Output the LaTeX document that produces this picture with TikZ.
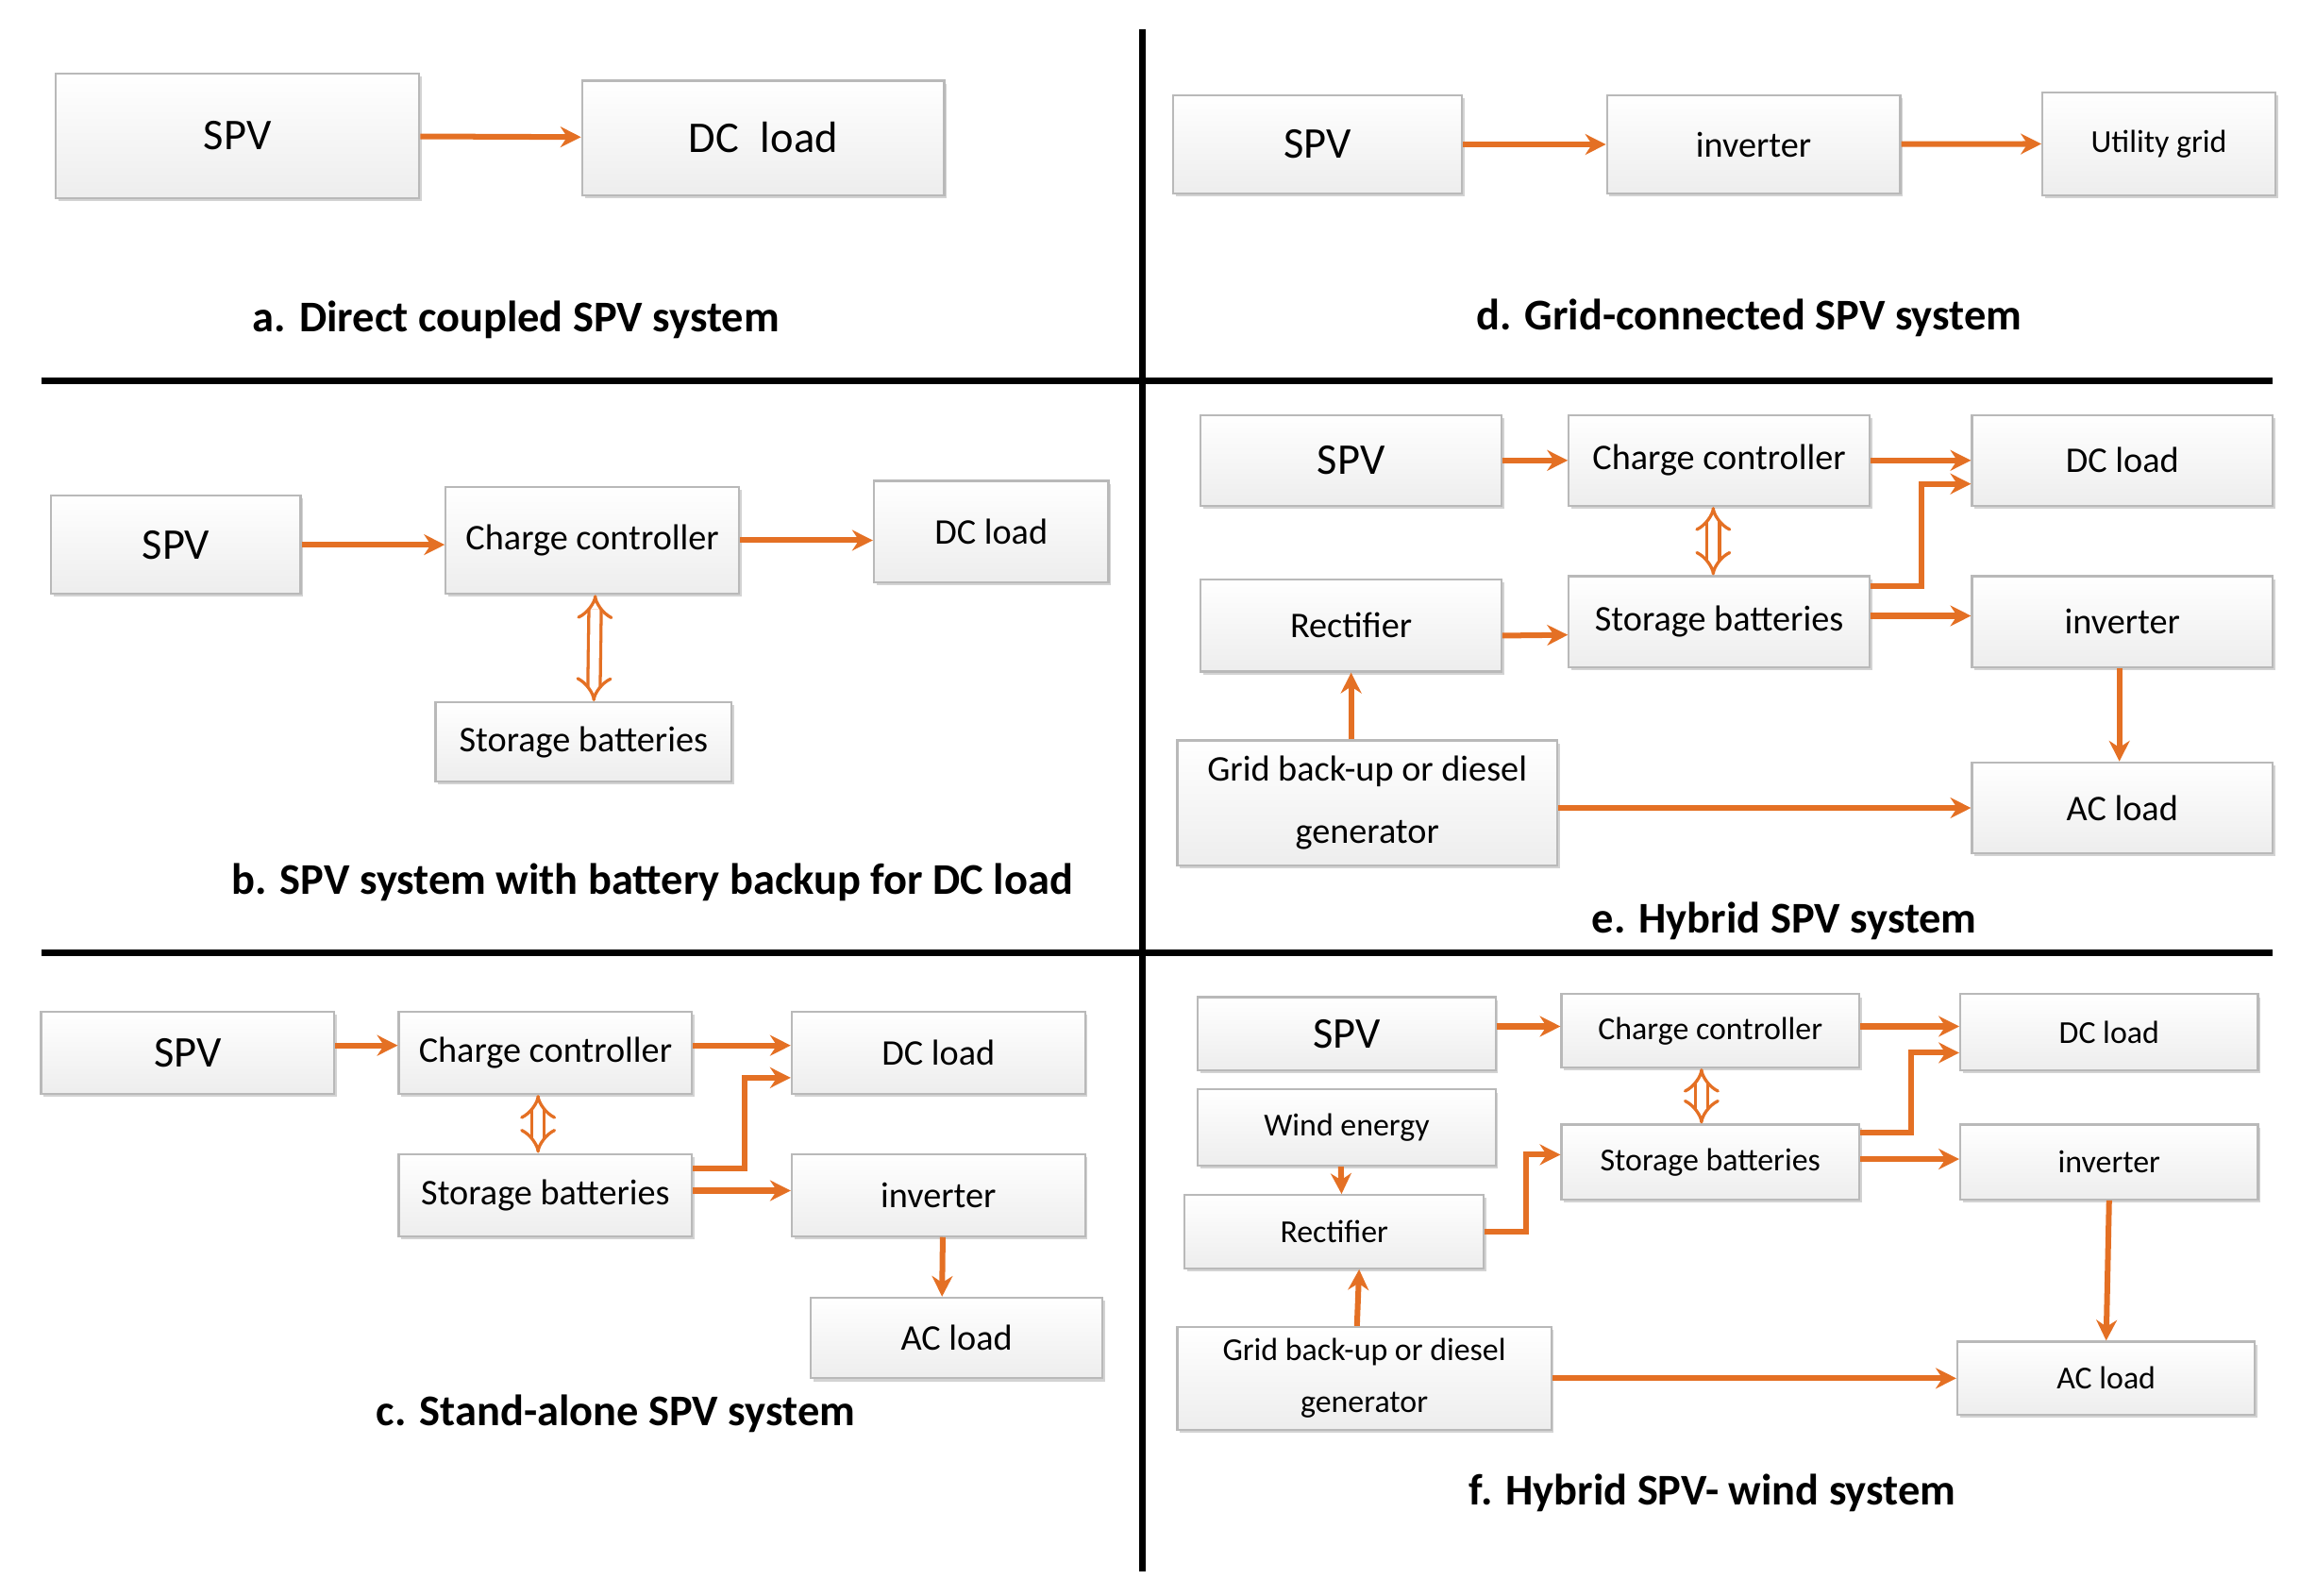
\documentclass[tikz,border=0pt]{standalone}
\usepackage{fontspec}
\setmainfont{Carlito}
\usetikzlibrary{arrows.meta,calc,shadows}
\definecolor{arrorange}{RGB}{228,112,36}
\tikzset{
  blk/.style={draw=gray!55, top color=white, bottom color=gray!14, drop shadow={opacity=0.35,shadow xshift=0.5pt,shadow yshift=-0.6pt},
    inner sep=0pt, font=\fontsize{7}{8}\selectfont},
  big/.style={font=\fontsize{8.5}{10}\selectfont},
  small/.style={font=\fontsize{6.2}{7}\selectfont},
  arr/.style={draw=arrorange, line width=1.1pt, -{Stealth[length=4pt,width=4pt]}},
  dbl/.style={draw=arrorange, line width=0.6pt, double=white, double distance=1.8pt, {Implies}-{Implies}},
  caption/.style={font=\bfseries\fontsize{8.5}{10}\selectfont},
  sep/.style={line width=1.3pt}
}
% box from corner (x1,y1) to corner (x2,y2)
\newcommand\bx[6][]{\node[blk,#1, minimum width={(#5-#3)*0.01cm}, minimum height={(#6-#4)*0.01cm}]
  (#2) at ({(#3+#5)/2},{(#4+#6)/2})}
\begin{document}
\begin{tikzpicture}[x=0.01cm,y=-0.01cm]
\useasboundingbox (0,0) rectangle (1568,1088);
% separators
\draw[sep] (779,20) coordinate (vt) -- (779,1072) coordinate (vb);
\draw[sep] (28,260) coordinate (h1l) -- (1550,260) coordinate (h1r);
\draw[sep] (28,650) coordinate (h2l) -- (1550,650) coordinate (h2r);

% a. direct coupled
\bx[big]{spva}{38}{50}{286}{135} {SPV};
\bx[big]{dca}{397}{55}{644}{133} {DC\enspace load};
\draw[arr] (spva) -- (dca);
\node[caption] (capa) at (352,218) {a. Direct coupled SPV system};

% d. grid-connected
\bx[big]{spvd}{800}{65}{997}{132} {SPV};
\bx{invd}{1096}{65}{1296}{132} {inverter};
\bx[small]{gridd}{1393}{63}{1552}{133} {Utility grid};
\draw[arr] (spvd) -- (invd);
\draw[arr] (invd) -- (gridd);
\node[caption] (capd) at (1193,217) {d. Grid-connected SPV system};

% b. battery backup
\bx[big]{spvb}{35}{338}{205}{405} {SPV};
\bx{ccb}{304}{332}{504}{405} {Charge controller};
\bx{dcb}{596}{328}{756}{397} {DC load};
\bx{sbb}{297}{479}{499}{533} {Storage batteries};
\draw[arr] (spvb) -- (spvb -| ccb.west);
\draw[arr] (ccb.east) -- (ccb.east -| dcb.west);
\draw[dbl] ($(ccb.south)+(2,0)$) -- ($(sbb.north)+(7,0)$);
\node[caption] (capb) at (445,602) {b. SPV system with battery backup for DC load};

% e. hybrid
\bx[big]{spve}{819}{283}{1024}{345} {SPV};
\bx{cce}{1070}{283}{1275}{345} {Charge controller};
\bx{dce}{1345}{283}{1550}{345} {DC load};
\bx{rece}{819}{395}{1024}{458} {Rectifier};
\bx{sbe}{1070}{393}{1275}{455} {Storage batteries};
\bx{inve}{1345}{393}{1550}{455} {inverter};
\bx[align=center]{gene}{803}{505}{1062}{590} {Grid back-up or diesel\\[4pt]generator};
\bx{ace}{1345}{520}{1550}{582} {AC load};
\draw[arr] (spve) -- (cce);
\draw[arr] (cce) -- (dce);
\draw[dbl] ($(cce.south)+(-4,0)$) -- ($(sbe.north)+(-4,0)$);
\draw[arr] ($(rece.east)+(0,7)$) -- ($(sbe.west)+(0,9)$);
\draw[arr] ($(sbe.east)+(0,-24)$) -- ++(35,0) |- ($(dce.west)+(0,16)$);
\draw[arr] ($(sbe.east)+(0,-4)$) -- ($(inve.west)+(0,-4)$);
\draw[arr] ($(inve.south)+(-2,0)$) -- ($(ace.north)+(-2,0)$);
\draw[arr] (gene.north -| rece) -- (rece.south);
\draw[arr] (gene.east |- ace) -- (ace.west);
\node[caption] (cape) at (1217,628) {e. Hybrid SPV system};

% c. stand-alone
\bx[big]{spvc}{28}{690}{228}{746} {SPV};
\bx{ccc}{272}{690}{472}{746} {Charge controller};
\bx{dcc}{540}{690}{740}{746} {DC load};
\bx{sbc}{272}{787}{472}{843} {Storage batteries};
\bx{invc}{540}{787}{740}{843} {inverter};
\bx{acc}{553}{885}{752}{940} {AC load};
\draw[arr] ($(spvc.east)+(0,-5)$) -- ($(ccc.west)+(0,-5)$);
\draw[arr] ($(ccc.east)+(0,-5)$) -- ($(dcc.west)+(0,-5)$);
\draw[dbl] ($(ccc.south)+(-5,0)$) -- ($(sbc.north)+(-5,0)$);
\draw[arr] ($(sbc.east)+(0,-18)$) -- ++(35,0) |- ($(dcc.west)+(0,17)$);
\draw[arr] ($(sbc.east)+(0,-3)$) -- ($(invc.west)+(0,-3)$);
\draw[arr] ($(invc.south)+(3,0)$) -- ($(acc.north)+(-10,0)$);
\node[caption] (capc) at (420,964) {c. Stand-alone SPV system};

% f. hybrid wind
\bx[big]{spvf}{817}{680}{1020}{730} {SPV};
\bx[small]{ccf}{1065}{678}{1268}{728} {Charge controller};
\bx[small]{dcf}{1337}{678}{1540}{730} {DC load};
\bx[small]{windf}{817}{743}{1020}{795} {Wind energy};
\bx[small]{recf}{808}{815}{1012}{865} {Rectifier};
\bx[small]{sbf}{1065}{767}{1268}{818} {Storage batteries};
\bx[small]{invf}{1337}{767}{1540}{818} {inverter};
\bx[small,align=center]{genf}{803}{905}{1058}{975} {Grid back-up or diesel\\[3pt]generator};
\bx[small]{acf}{1335}{915}{1538}{965} {AC load};
\draw[arr] ($(spvf.east)+(0,-5)$) -- ($(ccf.west)+(0,-3)$);
\draw[arr] ($(ccf.east)+(0,-3)$) -- ($(dcf.west)+(0,-4)$);
\draw[dbl] ($(ccf.south)+(-6,0)$) -- ($(sbf.north)+(-6,0)$);
\draw[arr] ($(windf.south)+(-4,0)$) -- ($(recf.north)+(5,0)$);
\draw[arr] ($(recf.east)+(0,0)$) -- ++(28,0) |- ($(sbf.west)+(0,-5)$);
\draw[arr] ($(sbf.east)+(0,-20)$) -- ++(35,0) |- ($(dcf.west)+(0,14)$);
\draw[arr] ($(sbf.east)+(0,-2)$) -- ($(invf.west)+(0,-2)$);
\draw[arr] (invf.south) -- (acf.north);
\draw[arr] ($(genf.north)+(-5,0)$) -- ($(recf.south)+(17,0)$);
\draw[arr] (genf.east |- acf) -- (acf.west);
\node[caption] (capf) at (1168,1018) {f. Hybrid SPV- wind system};
\end{tikzpicture}
\end{document}
